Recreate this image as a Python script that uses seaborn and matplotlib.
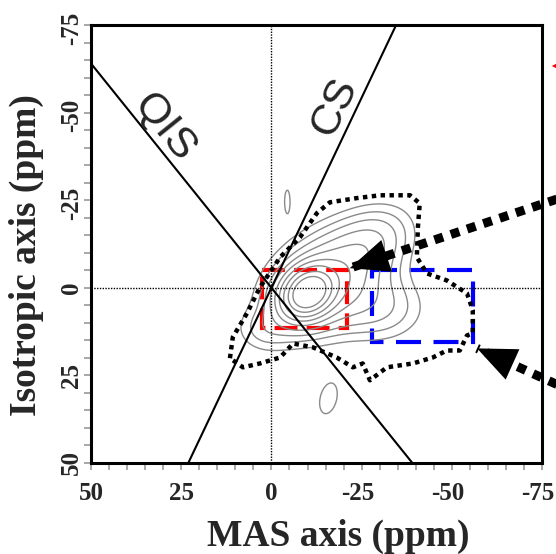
import numpy as np
import matplotlib
matplotlib.use("Agg")
import matplotlib.pyplot as plt
import seaborn as sns
from matplotlib.patches import Rectangle
from matplotlib.ticker import MultipleLocator
from matplotlib.transforms import ScaledTranslation

# peak components (ppm)
peak_mas = [-10.0, -16.0, -28.0, -30.0, 2.0, -4.4, -15.8]
peak_iso = [1.5, -2.0, -14.0, 6.0, 12.0, -24.7, 31.6]
peak_wmas = [4.5, 10.0, 7.0, 8.0, 5.0, 0.8, 2.7]
peak_wiso = [4.5, 9.0, 6.0, 6.0, 4.0, 3.5, 4.8]
peak_rho = [0.2, 0.35, 0.3, 0.0, 0.0, 0.0, 0.3]
peak_amp = [1.0, 0.35, 0.1, 0.1, 0.06, 0.06, 0.06]
contour_levels = [0.04, 0.07, 0.11, 0.17, 0.25, 0.36, 0.5, 0.68, 0.88]

# hand-traced outer (dotted) contour
outline_mas = [11.5, 10.7, 6.8, 3.2, -2.4, -7.9, -12.6, -16.2, -23.7, -30.1, -38.4, -41.1,
               -40.6, -40.3, -43.1, -48.6, -54.2, -55.8, -55.8, -54.2, -52.2, -48.6, -44.7,
               -39.2, -32.0, -27.3, -25.3, -22.6, -18.1, -11.5, -6.0, -2.4, 3.2, 7.9, 11.5]
outline_iso = [20.1, 14.1, 7.3, -0.1, -8.7, -14.4, -21.3, -24.4, -25.6, -26.4, -26.4, -24.1,
               -17.3, -8.7, -4.1, -2.1, 1.6, 6.4, 13.0, 13.6, 17.9, 17.9, 19.9,
               21.6, 22.7, 26.4, 21.6, 22.7, 19.9, 17.0, 15.9, 19.9, 21.6, 22.7, 20.1]

# QIS and CS guide lines through the origin (slope in iso/mas)
guide_names = ["QIS", "CS"]
guide_slopes = [-1.28, 2.17]

# selection boxes: mas range, iso range
red_box_mas = [2.5, -21.0]
red_box_iso = [-5.0, 11.5]
blue_box_mas = [-28.0, -56.0]
blue_box_iso = [-5.0, 15.5]

# arrows: tail -> tip (ppm)
arrow_tail_mas = [-80.0, -80.0]
arrow_tail_iso = [-25.6, 28.0]
arrow_tip_mas = [-21.7, -57.0]
arrow_tip_iso = [-5.6, 17.3]

xticks = [50, 25, 0, -25, -50, -75]
yticks = [-75, -50, -25, 0, 25, 50]

sns.set_style("ticks")
plt.rcParams["font.family"] = ["Liberation Serif", "DejaVu Serif"]

fig = plt.figure(figsize=(5.56, 5.54), dpi=100)
ax = fig.add_axes([0.1637, 0.1643, 0.8112, 0.7906])

# contour field built from the read peak components
gx = np.linspace(-80, 55, 400)
gy = np.linspace(-80, 55, 400)
X, Y = np.meshgrid(gx, gy)
Z = np.zeros_like(X)
for mx, my, wx, wy, r, a in zip(peak_mas, peak_iso, peak_wmas, peak_wiso, peak_rho, peak_amp):
    dx = (X - mx) / wx
    dy = (Y - my) / wy
    Z += a * np.exp(-(dx**2 - 2 * r * dx * dy + dy**2) / (2 * (1 - r**2)))
ax.contour(X, Y, Z, levels=contour_levels, colors="#8a8a8a", linewidths=1.0)

# dotted reference axes
ax.axvline(0, color="black", lw=1.0, ls=(0, (1, 1)))
ax.axhline(0, color="black", lw=1.0, ls=(0, (1, 1)))

# guide lines
line_mas = np.array([60.0, -90.0])
for name, s in zip(guide_names, guide_slopes):
    sns.lineplot(x=line_mas, y=s * line_mas, color="black", lw=1.5, sort=False, ax=ax)

ax.text(29.5, -45.9, "QIS", family="Liberation Sans", fontsize=31, rotation=-51.2,
        ha="center", va="center", rotation_mode="anchor")
ax.text(-17.6, -51.9, "CS", family="Liberation Sans", fontsize=31, rotation=64.6,
        ha="center", va="center", rotation_mode="anchor")

# dotted outer contour
ax.plot(outline_mas, outline_iso, color="black", lw=3.2, ls=(0, (1, 1)))

# dashed boxes
ax.add_patch(Rectangle((red_box_mas[0], red_box_iso[0]), red_box_mas[1] - red_box_mas[0],
                       red_box_iso[1] - red_box_iso[0], fill=False, ec="red", lw=3.0,
                       ls=(0, (5.5, 2.2))))
ax.add_patch(Rectangle((blue_box_mas[0], blue_box_iso[0]), blue_box_mas[1] - blue_box_mas[0],
                       blue_box_iso[1] - blue_box_iso[0], fill=False, ec="blue", lw=3.0,
                       ls=(0, (6, 3))))

# thick dotted arrows
for tx, ty, hx, hy in zip(arrow_tail_mas, arrow_tail_iso, arrow_tip_mas, arrow_tip_iso):
    ax.plot([tx, hx], [ty, hy], color="black", lw=6.5, ls=(0, (1, 0.9)), clip_on=False)
    ax.annotate("", xy=(hx, hy), xytext=(tx, ty),
                arrowprops=dict(arrowstyle="-|>,head_length=2.8,head_width=1.2",
                                mutation_scale=10, lw=0, color="black",
                                shrinkA=0, shrinkB=0),
                annotation_clip=False)

# edge of a red arrow from the neighbouring panel
ax.annotate("", xy=(-77.7, -63.3), xytext=(-95, -63.3),
            arrowprops=dict(arrowstyle="-|>,head_length=1.2,head_width=0.6",
                            mutation_scale=10, lw=0, color="red", shrinkA=0, shrinkB=0),
            annotation_clip=False)

# axes, inverted as usual for NMR
ax.set_xlim(50, -75)
ax.set_ylim(50, -75)
ax.set_xticks(xticks)
ax.set_yticks(yticks)
ax.set_xticklabels([str(v) for v in xticks], fontweight="bold", fontsize=18)
ax.set_yticklabels([str(v) for v in yticks], fontweight="bold", fontsize=18,
                   rotation=90, va="center")
ax.xaxis.set_minor_locator(MultipleLocator(5))
ax.yaxis.set_minor_locator(MultipleLocator(5))
ax.tick_params(which="both", direction="out", color="#9a9a9a", width=1.2, length=5,
               top=False, right=False)
ax.tick_params(axis="x", pad=9)
ax.tick_params(axis="y", pad=1)
for sp in ax.spines.values():
    sp.set_linewidth(2.2)
    sp.set_color("black")

# digits sit on the tick, the minus sign hangs outside
for lab, v in zip(ax.get_xticklabels(), xticks):
    if v < 0:
        lab.set_transform(lab.get_transform() + ScaledTranslation(-0.04, 0, fig.dpi_scale_trans))
for lab, v in zip(ax.get_yticklabels(), yticks):
    if v < 0:
        lab.set_transform(lab.get_transform() + ScaledTranslation(0, -0.03, fig.dpi_scale_trans))

ax.set_xlabel("MAS axis (ppm)", fontsize=27, fontweight="bold")
ax.set_ylabel("Isotropic axis (ppm)", fontsize=27, fontweight="bold")
ax.xaxis.set_label_coords(0.548, -0.128)
ax.yaxis.set_label_coords(-0.104, 0.475)

fig.savefig("out.png", dpi=100)
